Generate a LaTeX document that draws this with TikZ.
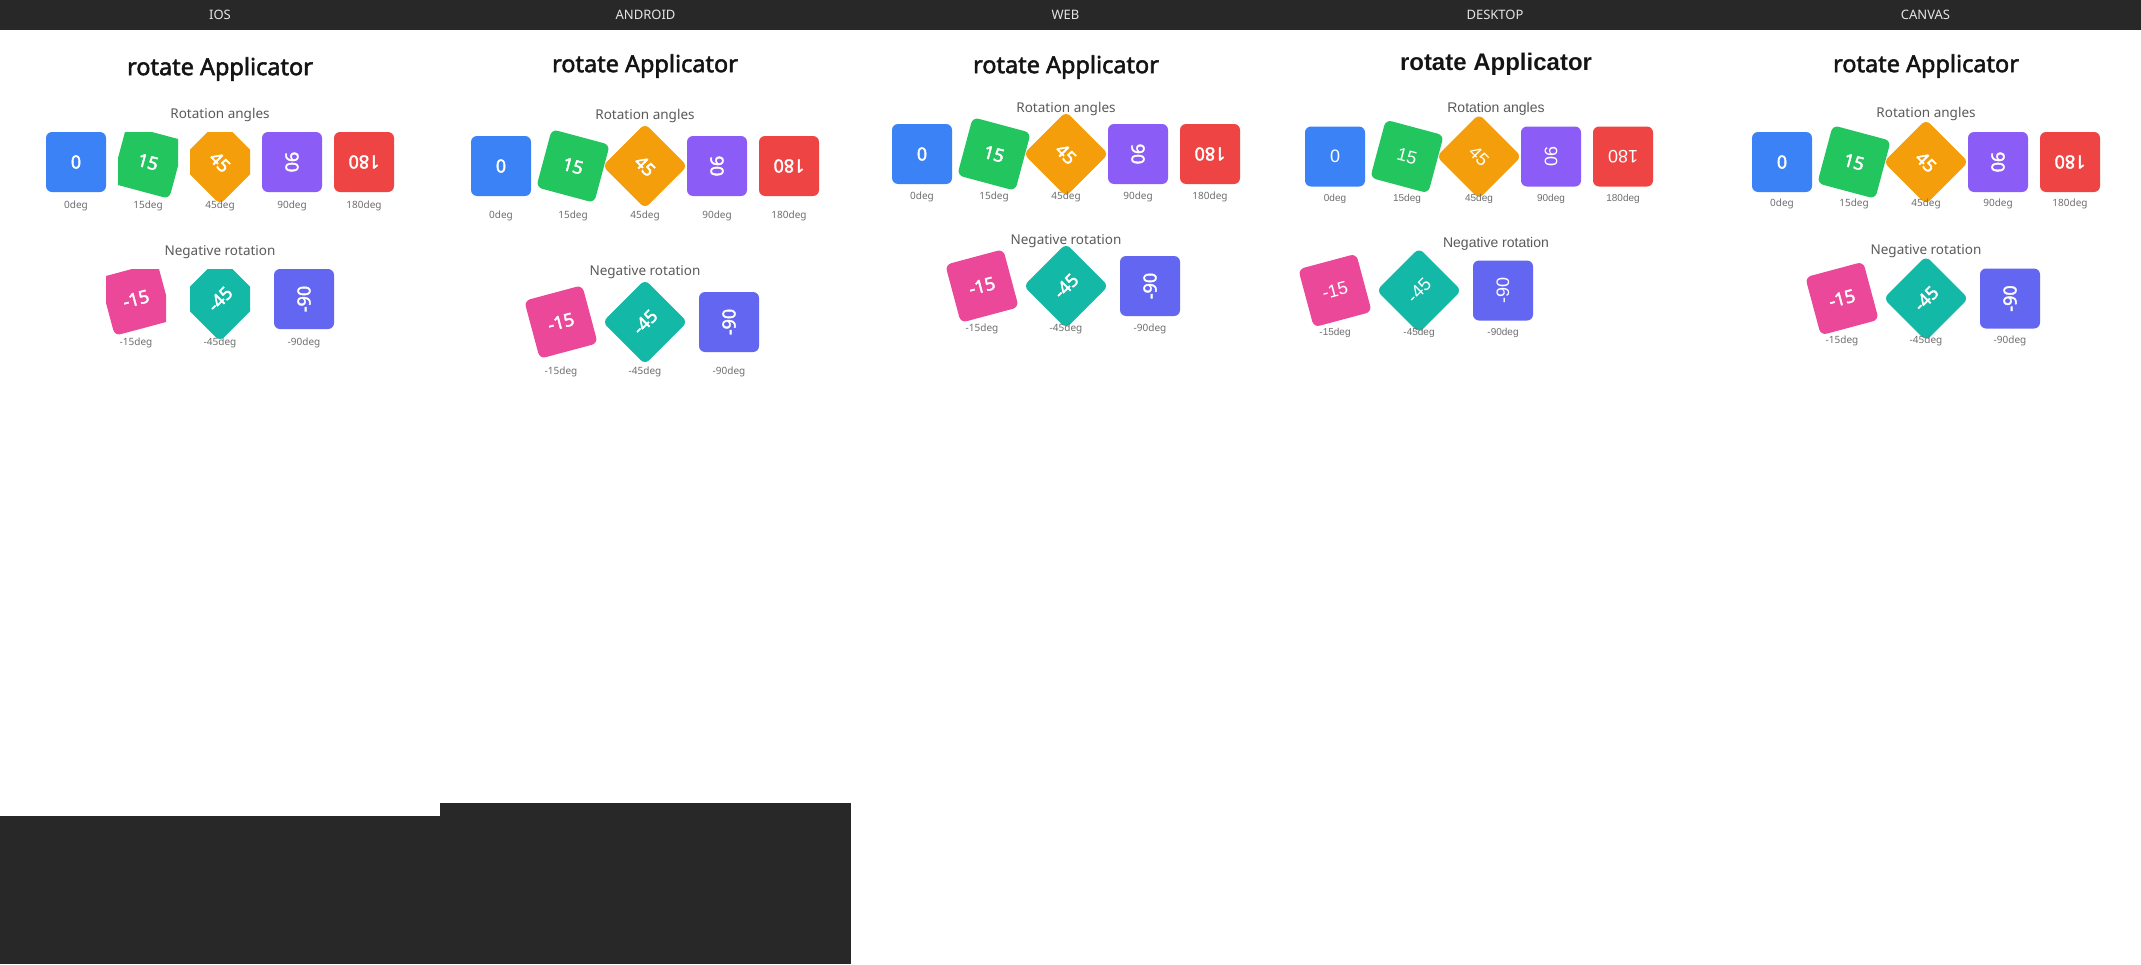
\documentclass[tikz,border=0pt]{standalone}
\usepackage{fontspec}
\setmainfont{Noto Sans}[AutoFakeBold=2.2]
\newfontfamily\deskfont{Liberation Sans}
\usepackage{tikz}
\usetikzlibrary{positioning}
\usepackage{xcolor}
\definecolor{rablue}{RGB}{59,130,246}
\definecolor{ragreen}{RGB}{34,197,94}
\definecolor{raorange}{RGB}{245,158,11}
\definecolor{rapurple}{RGB}{139,92,246}
\definecolor{rared}{RGB}{239,68,68}
\definecolor{rapink}{RGB}{236,72,153}
\definecolor{rateal}{RGB}{20,184,166}
\definecolor{raindigo}{RGB}{99,102,241}
\definecolor{rabar}{RGB}{40,40,40}
\definecolor{ratext}{RGB}{20,20,20}
\definecolor{ragray}{RGB}{90,90,90}
\definecolor{ralabel}{RGB}{110,110,110}
\def\colfont{\rmfamily}
\def\titlesize{23.5}
\def\subsize{13.5}
\def\boxweight{\bfseries}
\tikzstyle{rabox} = [rectangle, rounded corners=6pt, minimum size=60pt, inner sep=0pt, text=white, font=\colfont\fontsize{18}{18}\selectfont\boxweight]
\tikzstyle{ratitle} = [inner sep=0pt, text=ratext, font=\colfont\fontsize{\titlesize}{\titlesize}\selectfont\bfseries]
\tikzstyle{rasub} = [inner sep=0pt, text=ragray, font=\colfont\fontsize{\subsize}{\subsize}\selectfont]
\tikzstyle{radeg} = [inner sep=0pt, text=ralabel, font=\colfont\fontsize{10}{10}\selectfont]
\tikzstyle{rahead} = [inner sep=0pt, text=white!90!black, font=\fontsize{13}{13}\selectfont]

\begin{document}
\begin{tikzpicture}[x=1pt, y=-1pt]
\useasboundingbox (0,0) rectangle (2141,964);
\fill[white] (0,0) rectangle (2141,964);
% Platform bar
\fill[rabar] (0,0) rectangle (2141,30);
\fill[rabar] (0,816) rectangle (440,964);
\fill[rabar] (440,803) rectangle (851,964);
\node (hios) [rahead] at (220,15) {IOS};
\node (handroid) [rahead] at (645.5,15) {ANDROID};
\node (hweb) [rahead] at (1065.5,15) {WEB};
\node (hdesktop) [rahead] at (1495,15) {DESKTOP};
\node (hcanvas) [rahead] at (1925.5,15) {CANVAS};

% IOS
\node (iostitle) [ratitle] at (220,69) {rotate Applicator};
\node (iossub) [rasub] at (220,115) {Rotation angles};
\node (ios0) [rabox, fill=rablue] at (76,162) {0};
\begin{scope}
\clip (118,132) rectangle (178,210);
\node (ios15) [rabox, fill=ragreen, rotate=-15] at (148,162) {15};
\end{scope}
\begin{scope}
\clip (190,132) rectangle (250,215);
\node (ios45) [rabox, fill=raorange, rotate=-45] at (220,162) {45};
\end{scope}
\node (ios90) [rabox, fill=rapurple, rotate=-90] at (292,162) {90};
\node (ios180) [rabox, fill=rared, rotate=180] at (364,162) {180};
\node (ios0l) [radeg] at (76,206) {0deg};
\node (ios15l) [radeg] at (148,206) {15deg};
\node (ios45l) [radeg] at (220,206) {45deg};
\node (ios90l) [radeg] at (292,206) {90deg};
\node (ios180l) [radeg] at (364,206) {180deg};
\node (iosneg) [rasub] at (220,252) {Negative rotation};
\begin{scope}
\clip (106,269) rectangle (166,345);
\node (iosm15) [rabox, fill=rapink, rotate=15] at (136,299) {-15};
\end{scope}
\begin{scope}
\clip (190,269) rectangle (250,350);
\node (iosm45) [rabox, fill=rateal, rotate=45] at (220,299) {-45};
\end{scope}
\node (iosm90) [rabox, fill=raindigo, rotate=90] at (304,299) {-90};
\node (iosm15l) [radeg] at (136,343) {-15deg};
\node (iosm45l) [radeg] at (220,343) {-45deg};
\node (iosm90l) [radeg] at (304,343) {-90deg};

% ANDROID
\node (drtitle) [ratitle] at (645,66) {rotate Applicator};
\node (drsub) [rasub] at (645,116) {Rotation angles};
\node (dr0) [rabox, fill=rablue] at (501,166) {0};
\node (dr15) [rabox, fill=ragreen, rotate=-15] at (573,166) {15};
\node (dr45) [rabox, fill=raorange, rotate=-45] at (645,166) {45};
\node (dr90) [rabox, fill=rapurple, rotate=-90] at (717,166) {90};
\node (dr180) [rabox, fill=rared, rotate=180] at (789,166) {180};
\node (dr0l) [radeg] at (501,216) {0deg};
\node (dr15l) [radeg] at (573,216) {15deg};
\node (dr45l) [radeg] at (645,216) {45deg};
\node (dr90l) [radeg] at (717,216) {90deg};
\node (dr180l) [radeg] at (789,216) {180deg};
\node (drneg) [rasub] at (645,272) {Negative rotation};
\node (drm15) [rabox, fill=rapink, rotate=15] at (561,322) {-15};
\node (drm45) [rabox, fill=rateal, rotate=45] at (645,322) {-45};
\node (drm90) [rabox, fill=raindigo, rotate=90] at (729,322) {-90};
\node (drm15l) [radeg] at (561,372) {-15deg};
\node (drm45l) [radeg] at (645,372) {-45deg};
\node (drm90l) [radeg] at (729,372) {-90deg};

% WEB
\node (webtitle) [ratitle] at (1066,67) {rotate Applicator};
\node (websub) [rasub] at (1066,109) {Rotation angles};
\node (web0) [rabox, fill=rablue] at (922,154) {0};
\node (web15) [rabox, fill=ragreen, rotate=-15] at (994,154) {15};
\node (web45) [rabox, fill=raorange, rotate=-45] at (1066,154) {45};
\node (web90) [rabox, fill=rapurple, rotate=-90] at (1138,154) {90};
\node (web180) [rabox, fill=rared, rotate=180] at (1210,154) {180};
\node (web0l) [radeg] at (922,197) {0deg};
\node (web15l) [radeg] at (994,197) {15deg};
\node (web45l) [radeg] at (1066,197) {45deg};
\node (web90l) [radeg] at (1138,197) {90deg};
\node (web180l) [radeg] at (1210,197) {180deg};
\node (webneg) [rasub] at (1066,241) {Negative rotation};
\node (webm15) [rabox, fill=rapink, rotate=15] at (982,286) {-15};
\node (webm45) [rabox, fill=rateal, rotate=45] at (1066,286) {-45};
\node (webm90) [rabox, fill=raindigo, rotate=90] at (1150,286) {-90};
\node (webm15l) [radeg] at (982,329) {-15deg};
\node (webm45l) [radeg] at (1066,329) {-45deg};
\node (webm90l) [radeg] at (1150,329) {-90deg};

% DESKTOP
\begin{scope}
\def\colfont{\deskfont}
\def\titlesize{24}
\def\subsize{14}
\def\boxweight{\mdseries}
\node (dsktitle) [ratitle] at (1496,64) {rotate Applicator};
\node (dsksub) [rasub] at (1496,109) {Rotation angles};
\node (dsk0) [rabox, fill=rablue] at (1335,156.5) {0};
\node (dsk15) [rabox, fill=ragreen, rotate=-15] at (1407,156.5) {15};
\node (dsk45) [rabox, fill=raorange, rotate=-45] at (1479,156.5) {45};
\node (dsk90) [rabox, fill=rapurple, rotate=-90] at (1551,156.5) {90};
\node (dsk180) [rabox, fill=rared, rotate=180] at (1623,156.5) {180};
\node (dsk0l) [radeg] at (1335,199) {0deg};
\node (dsk15l) [radeg] at (1407,199) {15deg};
\node (dsk45l) [radeg] at (1479,199) {45deg};
\node (dsk90l) [radeg] at (1551,199) {90deg};
\node (dsk180l) [radeg] at (1623,199) {180deg};
\node (dskneg) [rasub] at (1496,244) {Negative rotation};
\node (dskm15) [rabox, fill=rapink, rotate=15] at (1335,290.5) {-15};
\node (dskm45) [rabox, fill=rateal, rotate=45] at (1419,290.5) {-45};
\node (dskm90) [rabox, fill=raindigo, rotate=90] at (1503,290.5) {-90};
\node (dskm15l) [radeg] at (1335,333) {-15deg};
\node (dskm45l) [radeg] at (1419,333) {-45deg};
\node (dskm90l) [radeg] at (1503,333) {-90deg};
\end{scope}

% CANVAS
\node (cvtitle) [ratitle] at (1926,66) {rotate Applicator};
\node (cvsub) [rasub] at (1926,114) {Rotation angles};
\node (cv0) [rabox, fill=rablue] at (1782,162) {0};
\node (cv15) [rabox, fill=ragreen, rotate=-15] at (1854,162) {15};
\node (cv45) [rabox, fill=raorange, rotate=-45] at (1926,162) {45};
\node (cv90) [rabox, fill=rapurple, rotate=-90] at (1998,162) {90};
\node (cv180) [rabox, fill=rared, rotate=180] at (2070,162) {180};
\node (cv0l) [radeg] at (1782,204) {0deg};
\node (cv15l) [radeg] at (1854,204) {15deg};
\node (cv45l) [radeg] at (1926,204) {45deg};
\node (cv90l) [radeg] at (1998,204) {90deg};
\node (cv180l) [radeg] at (2070,204) {180deg};
\node (cvneg) [rasub] at (1926,251) {Negative rotation};
\node (cvm15) [rabox, fill=rapink, rotate=15] at (1842,298.5) {-15};
\node (cvm45) [rabox, fill=rateal, rotate=45] at (1926,298.5) {-45};
\node (cvm90) [rabox, fill=raindigo, rotate=90] at (2010,298.5) {-90};
\node (cvm15l) [radeg] at (1842,341) {-15deg};
\node (cvm45l) [radeg] at (1926,341) {-45deg};
\node (cvm90l) [radeg] at (2010,341) {-90deg};
\end{tikzpicture}
\end{document}
